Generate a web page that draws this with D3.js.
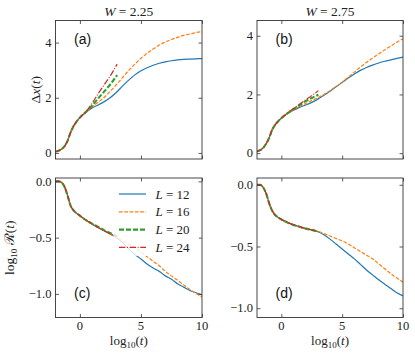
<!DOCTYPE html>
<html>
<head>
<meta charset="utf-8">
<script src="https://cdn.jsdelivr.net/npm/d3@7"></script>
<style>
body{margin:0;background:#fff;}
</style>
</head>
<body>
<div id="fig"></div>
<script>
"use strict";

// grilles en log10(t)
var tLong = [-2,-1.75,-1.5,-1.25,-1,-0.75,-0.5,-0.25,0,0.5,1,1.5,2,2.5,3,3.5,4,4.5,5,5.5,6,6.5,7,7.5,8,8.5,9,9.5,10];
var tShort = [-2,-1.75,-1.5,-1.25,-1,-0.75,-0.5,-0.25,0,0.5,1,1.5,2,2.5,3.05];

var sizes = [12, 16, 20, 24];
var titles = ["2.25", "2.75"];
var xTicks = [0, 5, 10];
var dxTicks = [0, 2, 4];
var rTicks = [0, -0.5, -1];

// (a) Delta x(t), W = 2.25
var dxA12 = [0.05,0.08,0.14,0.25,0.45,0.76,0.99,1.15,1.28,1.47,1.63,1.74,1.86,2.01,2.2,2.43,2.64,2.83,2.98,3.09,3.18,3.25,3.3,3.34,3.37,3.39,3.4,3.41,3.42];
var dxA16 = [0.05,0.08,0.14,0.25,0.45,0.76,0.99,1.15,1.28,1.48,1.67,1.84,2.02,2.24,2.48,2.74,2.99,3.22,3.43,3.61,3.77,3.91,4.02,4.11,4.19,4.26,4.31,4.36,4.4];
var dxA20 = [0.05,0.08,0.14,0.25,0.45,0.76,0.99,1.15,1.28,1.49,1.72,1.98,2.23,2.49,2.82];
var dxA24 = [0.05,0.08,0.14,0.25,0.45,0.76,0.99,1.15,1.28,1.5,1.8,2.15,2.48,2.8,3.22];

// (b) Delta x(t), W = 2.75
var dxB12 = [0.06,0.1,0.18,0.32,0.52,0.8,0.97,1.09,1.19,1.34,1.46,1.56,1.64,1.73,1.84,1.97,2.11,2.26,2.41,2.56,2.7,2.82,2.92,3.0,3.07,3.13,3.18,3.23,3.27];
var dxB16 = [0.06,0.1,0.18,0.32,0.52,0.8,0.97,1.09,1.19,1.35,1.48,1.59,1.69,1.79,1.89,2.0,2.13,2.27,2.42,2.59,2.76,2.93,3.09,3.24,3.38,3.52,3.65,3.78,3.9];
var dxB20 = [0.06,0.1,0.18,0.32,0.52,0.8,0.97,1.09,1.19,1.36,1.5,1.64,1.77,1.88,1.99];
var dxB24 = [0.06,0.1,0.18,0.32,0.52,0.8,0.97,1.09,1.19,1.37,1.52,1.67,1.82,1.96,2.13];

// (c) log10 R(t), W = 2.25
var rC12 = [0,0,-0.01,-0.05,-0.13,-0.22,-0.26,-0.285,-0.305,-0.345,-0.38,-0.41,-0.44,-0.47,-0.5,-0.545,-0.6,-0.65,-0.69,-0.735,-0.77,-0.8,-0.84,-0.87,-0.91,-0.94,-0.97,-0.99,-1.01];
var rC16 = [0,0,-0.01,-0.05,-0.13,-0.22,-0.26,-0.285,-0.305,-0.345,-0.38,-0.41,-0.44,-0.47,-0.5,-0.53,-0.56,-0.59,-0.63,-0.67,-0.71,-0.75,-0.8,-0.84,-0.88,-0.92,-0.96,-0.995,-1.03];
var rC20 = [0,0,-0.01,-0.05,-0.13,-0.22,-0.26,-0.285,-0.305,-0.345,-0.375,-0.405,-0.435,-0.46,-0.49];
var rC24 = [0,0,-0.01,-0.05,-0.13,-0.22,-0.26,-0.285,-0.305,-0.345,-0.38,-0.41,-0.44,-0.465,-0.49];

// (d) log10 R(t), W = 2.75
var rD12 = [0,0,-0.02,-0.07,-0.15,-0.21,-0.245,-0.265,-0.28,-0.305,-0.325,-0.34,-0.355,-0.365,-0.38,-0.405,-0.44,-0.48,-0.52,-0.56,-0.6,-0.645,-0.69,-0.73,-0.77,-0.805,-0.84,-0.875,-0.9];
var rD16 = [0,0,-0.02,-0.07,-0.15,-0.21,-0.245,-0.265,-0.28,-0.305,-0.325,-0.34,-0.355,-0.365,-0.375,-0.395,-0.415,-0.435,-0.455,-0.48,-0.51,-0.54,-0.57,-0.6,-0.64,-0.68,-0.72,-0.755,-0.79];
var rD20 = [0,0,-0.02,-0.07,-0.15,-0.21,-0.245,-0.265,-0.28,-0.305,-0.325,-0.34,-0.355,-0.365,-0.378];
var rD24 = [0,0,-0.02,-0.07,-0.15,-0.21,-0.245,-0.265,-0.28,-0.305,-0.325,-0.34,-0.355,-0.366,-0.382];

// style de chaque L
var styles = [
	{color:"#1f77b4", width:1.2, dash:null},
	{color:"#ff7f0e", width:1.2, dash:"3.7,1.6"},
	{color:"#2ca02c", width:2.1, dash:"5,2"},
	{color:"#d62728", width:1.2, dash:"6.4,1.6,1,1.6"}
];

var serifFont = "Liberation Serif";
var larg = 415, haut = 358;

var svg = d3.select("#fig")
	.append("svg")
	.attr("width", larg)
	.attr("height", haut)
	.attr("viewBox", "0 0 " + larg + " " + haut)
	.attr("font-family", serifFont);

var panels = [
	{lab:"(a)", x0:55.5, x1:202, y0:20.5, y1:159, ydom:[-0.22,4.8], ticks:dxTicks, fmt:d3.format("d"),
		series:[dxA12,dxA16,dxA20,dxA24], top:true, left:true, title:titles[0]},
	{lab:"(b)", x0:257, x1:403, y0:20.5, y1:159, ydom:[-0.2,4.52], ticks:dxTicks, fmt:d3.format("d"),
		series:[dxB12,dxB16,dxB20,dxB24], top:true, left:false, title:titles[1]},
	{lab:"(c)", x0:55.5, x1:202, y0:178, y1:317.5, ydom:[-1.21,0.03], ticks:rTicks, fmt:d3.format(".1f"),
		series:[rC12,rC16,rC20,rC24], top:false, left:true, legend:true},
	{lab:"(d)", x0:257, x1:403, y0:178, y1:317.5, ydom:[-1.075,0.055], ticks:rTicks, fmt:d3.format(".1f"),
		series:[rD12,rD16,rD20,rD24], top:false, left:false}
];

function drawPanel(p)
{
	var x = d3.scaleLinear().domain([-2, 10]).range([p.x0, p.x1]);
	var y = d3.scaleLinear().domain(p.ydom).range([p.y1, p.y0]);
	var g = svg.append("g");
	var id = "clip" + p.lab.charAt(1);

	g.append("clipPath").attr("id", id)
		.append("rect").attr("x", p.x0).attr("y", p.y0)
		.attr("width", p.x1 - p.x0).attr("height", p.y1 - p.y0);

	var line = d3.line()
		.x(function(d){ return x(d[0]); })
		.y(function(d){ return y(d[1]); })
		.curve(d3.curveMonotoneX);

	var curves = g.append("g").attr("clip-path", "url(#" + id + ")");
	p.series.forEach(function(vals, i){
		var ts = vals.length === tLong.length ? tLong : tShort;
		var pts = vals.map(function(v, k){ return [ts[k], v]; });
		curves.append("path")
			.attr("d", line(pts))
			.attr("fill", "none")
			.attr("stroke", styles[i].color)
			.attr("stroke-width", styles[i].width)
			.attr("stroke-dasharray", styles[i].dash);
	});

	// axes avec ticks vers l'intérieur sur les 4 côtés
	var tl = 3.5;
	var axB = d3.axisBottom(x).tickValues(xTicks).tickSizeInner(-tl).tickSizeOuter(0).tickFormat("");
	var axT = d3.axisTop(x).tickValues(xTicks).tickSizeInner(-tl).tickSizeOuter(0).tickFormat("");
	var axL = d3.axisLeft(y).tickValues(p.ticks).tickSizeInner(-tl).tickSizeOuter(0).tickFormat("");
	var axR = d3.axisRight(y).tickValues(p.ticks).tickSizeInner(-tl).tickSizeOuter(0).tickFormat("");
	g.append("g").attr("transform", "translate(0," + p.y1 + ")").call(axB);
	g.append("g").attr("transform", "translate(0," + p.y0 + ")").call(axT);
	g.append("g").attr("transform", "translate(" + p.x0 + ",0)").call(axL);
	g.append("g").attr("transform", "translate(" + p.x1 + ",0)").call(axR);
	g.selectAll(".domain").remove();
	g.selectAll(".tick line").attr("stroke", "#333").attr("stroke-width", 0.8);

	g.append("rect")
		.attr("x", p.x0).attr("y", p.y0)
		.attr("width", p.x1 - p.x0).attr("height", p.y1 - p.y0)
		.attr("fill", "none").attr("stroke", "#333").attr("stroke-width", 0.9);

	// étiquettes des ticks y
	p.ticks.forEach(function(v){
		g.append("text")
			.attr("x", p.x0 - 4)
			.attr("y", y(v))
			.attr("dy", "0.33em")
			.attr("text-anchor", "end")
			.attr("font-family", serifFont)
			.attr("font-size", "12.5px")
			.attr("fill", "#222")
			.text(p.fmt(v).replace("-", "\u2212"));
	});

	// étiquettes x seulement en bas
	if(!p.top)
	{
		xTicks.forEach(function(v){
			g.append("text")
				.attr("x", x(v))
				.attr("y", p.y1 + 12)
				.attr("text-anchor", "middle")
				.attr("font-family", serifFont)
				.attr("font-size", "12.5px")
				.attr("fill", "#222")
				.text(v);
		});
		var xl = g.append("text")
			.attr("x", (p.x0 + p.x1) / 2)
			.attr("y", p.y1 + 27.5)
			.attr("text-anchor", "middle")
			.attr("font-family", serifFont)
			.attr("font-size", "13px")
			.attr("fill", "#222");
		xl.append("tspan").text("log");
		xl.append("tspan").attr("dy", 3).attr("font-size", "9px").text("10");
		xl.append("tspan").attr("dy", -3).text("(");
		xl.append("tspan").attr("font-style", "italic").text("t");
		xl.append("tspan").text(")");
	}

	if(p.title)
	{
		var tt = g.append("text")
			.attr("x", (p.x0 + p.x1) / 2)
			.attr("y", 16)
			.attr("text-anchor", "middle")
			.attr("font-family", serifFont)
			.attr("font-size", "13.5px")
			.attr("fill", "#222");
		tt.append("tspan").attr("font-style", "italic").text("W");
		tt.append("tspan").text(" = " + p.title);
	}

	// étiquettes des axes y
	if(p.left)
	{
		var yc = (p.y0 + p.y1) / 2;
		if(p.top)
		{
			var yl = g.append("text")
				.attr("transform", "translate(40," + yc + ") rotate(-90)")
				.attr("text-anchor", "middle")
				.attr("font-family", serifFont)
				.attr("font-size", "13.5px")
				.attr("fill", "#222");
			yl.append("tspan").text("\u0394");
			yl.append("tspan").attr("font-style", "italic").text("x");
			yl.append("tspan").text("(");
			yl.append("tspan").attr("font-style", "italic").text("t");
			yl.append("tspan").text(")");
		}
		else
		{
			var yl2 = g.append("text")
				.attr("transform", "translate(14," + yc + ") rotate(-90)")
				.attr("text-anchor", "middle")
				.attr("font-family", serifFont)
				.attr("font-size", "13.5px")
				.attr("fill", "#222");
			yl2.append("tspan").text("log");
			yl2.append("tspan").attr("dy", 3).attr("font-size", "9px").text("10");
			yl2.append("tspan").attr("dy", -3).text(" \u211B(");
			yl2.append("tspan").attr("font-style", "italic").text("t");
			yl2.append("tspan").text(")");
		}
	}

	// (a), (b)...
	g.append("text")
		.attr("x", p.x0 + 18.5)
		.attr("y", p.top ? p.y0 + 23 : p.y1 - 20)
		.attr("font-family", "Liberation Sans")
		.attr("font-size", "14px")
		.attr("fill", "#111")
		.text(p.lab);

	if(p.legend)
	{
		g.append("rect")
			.attr("x", p.x0 + 58).attr("y", p.y0 + 6)
			.attr("width", p.x1 - p.x0 - 61).attr("height", 72)
			.attr("fill", "#fff").attr("opacity", 0.8);
		sizes.forEach(function(L, i){
			var ly = p.y0 + 16 + i * 17.8;
			g.append("line")
				.attr("x1", p.x0 + 63.5).attr("x2", p.x0 + 90.5)
				.attr("y1", ly).attr("y2", ly)
				.attr("stroke", styles[i].color)
				.attr("stroke-width", styles[i].width)
				.attr("stroke-dasharray", styles[i].dash);
			var lt = g.append("text")
				.attr("x", p.x0 + 100)
				.attr("y", ly)
				.attr("dy", "0.35em")
				.attr("font-family", serifFont)
				.attr("font-size", "13px")
				.attr("fill", "#222");
			lt.append("tspan").attr("font-style", "italic").text("L");
			lt.append("tspan").text(" = " + L);
		});
	}
}

panels.forEach(drawPanel);
</script>
</body>
</html>
